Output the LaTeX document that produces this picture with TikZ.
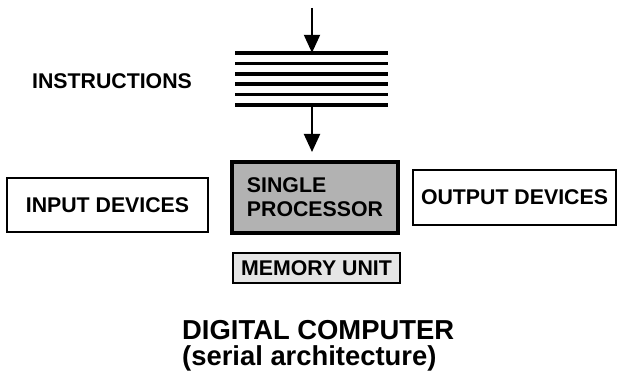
\documentclass[tikz,border=0pt]{standalone}
\usepackage{fontspec}
\setmainfont{Liberation Sans}
\usetikzlibrary{arrows.meta}
\begin{document}
\begin{tikzpicture}[x=1pt,y=-1pt,
  lbl/.style={font=\bfseries\fontsize{21.3}{24}\selectfont, inner sep=0pt},
  devbox/.style={lbl, draw, line width=2pt, inner sep=0pt},
  flow/.style={line width=2pt, -{Triangle[width=16pt,length=18pt]}},
  bar/.style={line width=3.6pt}]
  \useasboundingbox (0,0) rectangle (618,385);

  % instruction stream
  \node[lbl] (instr) at (112,81) {INSTRUCTIONS};
  \node[minimum width=153pt, minimum height=52pt, inner sep=0pt] (stack) at (311.5,79) {};
  \foreach \yy in {53,63.4,73.8,84.2,94.6,105}
    \draw[bar] (235,\yy) -- (388,\yy);
  \coordinate (src) at (312,8);
  \coordinate (sink) at (312,152);
  \draw[flow] (src) -- (stack.north -| src);
  \draw[flow] (stack.south -| src) -- (sink);

  % machine units
  \node[devbox, minimum width=201pt, minimum height=54pt] (input) at (107.5,205) {INPUT DEVICES};
  \node[devbox, line width=3.4pt, fill=black!30, minimum width=166pt, minimum height=71pt,
        align=left] (proc) at (315,197.5) {SINGLE\\PROCESSOR};
  \node[devbox, minimum width=203pt, minimum height=55pt] (output) at (514.5,197.5) {OUTPUT DEVICES};
  \node[devbox, line width=2.4pt, fill=black!10, minimum width=167pt, minimum height=30pt] (memory) at (316.5,268) {MEMORY UNIT};

  % caption
  \node[font=\bfseries\fontsize{27.4}{26.5}\selectfont, align=left, anchor=west, inner sep=0pt]
    (title) at (182,346) {DIGITAL COMPUTER\\(serial architecture)};
\end{tikzpicture}
\end{document}
